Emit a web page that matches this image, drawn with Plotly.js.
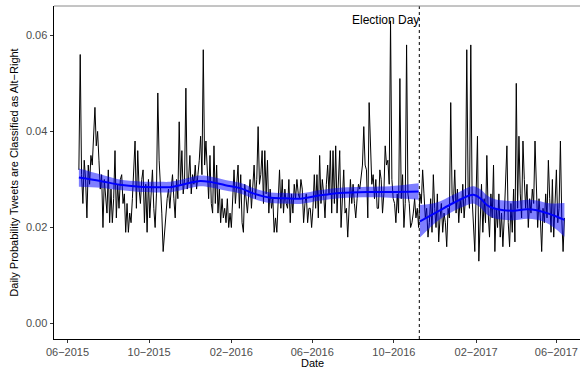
<!DOCTYPE html>
<html>
<head>
<meta charset="utf-8">
<script src="https://cdn.plot.ly/plotly-3.0.1.min.js"></script>
<style>html,body{margin:0;padding:0;background:#fff;}#chart{width:580px;height:370px;}</style>
</head>
<body>
<div id="chart"></div>
<script>
// Daily series sampled every 2 days, starting 2015-06-18
const seriesStart = '2015-06-18';
const seriesStepDays = 2;
const dailyProb = [
0.032,0.056,0.031,0.025,0.034,0.030,0.022,0.033,0.029,0.035,
0.033,0.041,0.045,0.037,0.040,0.034,0.028,0.031,0.020,0.030,
0.027,0.023,0.032,0.021,0.028,0.021,0.026,0.036,0.022,0.029,
0.024,0.030,0.031,0.025,0.027,0.019,0.025,0.019,0.023,0.021,
0.026,0.031,0.038,0.024,0.036,0.028,0.025,0.030,0.032,0.021,
0.029,0.019,0.030,0.022,0.028,0.032,0.024,0.020,0.027,0.048,
0.034,0.029,0.023,0.015,0.019,0.023,0.026,0.028,0.024,0.028,
0.031,0.026,0.022,0.030,0.026,0.042,0.029,0.036,0.027,0.030,
0.049,0.028,0.030,0.035,0.027,0.031,0.029,0.033,0.028,0.031,
0.034,0.039,0.031,0.057,0.033,0.038,0.031,0.026,0.035,0.025,
0.023,0.037,0.025,0.033,0.023,0.028,0.021,0.026,0.022,0.024,
0.021,0.026,0.020,0.023,0.020,0.027,0.032,0.025,0.030,0.033,
0.024,0.031,0.021,0.019,0.029,0.026,0.023,0.027,0.030,0.024,
0.028,0.033,0.026,0.030,0.041,0.029,0.031,0.036,0.025,0.036,
0.027,0.034,0.023,0.028,0.024,0.026,0.019,0.022,0.019,0.028,
0.032,0.024,0.030,0.023,0.028,0.025,0.024,0.030,0.021,0.027,
0.023,0.029,0.026,0.030,0.027,0.026,0.030,0.028,0.021,0.025,
0.027,0.021,0.024,0.024,0.020,0.024,0.031,0.024,0.031,0.022,
0.035,0.025,0.030,0.027,0.022,0.029,0.033,0.027,0.036,0.023,
0.036,0.025,0.037,0.023,0.030,0.036,0.020,0.027,0.032,0.023,
0.024,0.018,0.024,0.030,0.025,0.029,0.025,0.022,0.026,0.029,
0.028,0.031,0.033,0.041,0.033,0.032,0.022,0.046,0.036,0.029,
0.031,0.026,0.030,0.024,0.024,0.032,0.030,0.023,0.027,0.037,
0.033,0.034,0.029,0.063,0.030,0.026,0.025,0.021,0.027,0.023,
0.051,0.026,0.031,0.020,0.025,0.058,0.027,0.025,0.020,0.021,
0.023,0.026,0.022,0.024,0.020,0.027,0.025,0.032,0.027,0.022,
0.024,0.018,0.021,0.026,0.019,0.031,0.024,0.020,0.027,0.017,
0.022,0.025,0.019,0.023,0.021,0.016,0.024,0.022,0.046,0.027,
0.025,0.032,0.023,0.028,0.021,0.026,0.023,0.029,0.022,0.026,
0.057,0.028,0.024,0.058,0.026,0.020,0.015,0.027,0.039,0.013,
0.024,0.029,0.019,0.026,0.021,0.035,0.023,0.018,0.027,0.022,
0.033,0.015,0.024,0.020,0.027,0.018,0.023,0.016,0.022,0.029,
0.037,0.021,0.016,0.025,0.019,0.028,0.017,0.050,0.024,0.039,
0.027,0.022,0.038,0.030,0.024,0.029,0.020,0.026,0.023,0.028,
0.025,0.038,0.030,0.020,0.026,0.022,0.015,0.024,0.021,0.027,
0.022,0.034,0.026,0.019,0.030,0.018,0.025,0.032,0.021,0.024,
0.038,0.022,0.015,0.022
];

// Smoothed fit before Election Day
const fitBeforeDates = ['2015-06-18','2015-07-20','2015-08-18','2015-09-17','2015-10-17','2015-11-01','2015-11-16','2015-12-01','2015-12-16','2015-12-31','2016-01-23','2016-02-14','2016-03-07','2016-03-30','2016-04-21','2016-05-14','2016-06-13','2016-07-12','2016-08-26','2016-09-25','2016-11-07'];
const fitBefore     = [0.0304,0.0297,0.0289,0.0285,0.0284,0.0284,0.0288,0.0293,0.0297,0.0295,0.0288,0.0282,0.0270,0.0262,0.0261,0.0260,0.0267,0.0272,0.0274,0.0274,0.0275];
const fitBeforeHigh = [0.0323,0.0311,0.0300,0.0296,0.0295,0.0295,0.0299,0.0304,0.0308,0.0306,0.0299,0.0293,0.0281,0.0273,0.0272,0.0271,0.0278,0.0283,0.0285,0.0286,0.0292];
const fitBeforeLow  = [0.0285,0.0283,0.0278,0.0274,0.0273,0.0273,0.0277,0.0282,0.0286,0.0284,0.0277,0.0271,0.0259,0.0251,0.0250,0.0249,0.0256,0.0261,0.0263,0.0262,0.0258];

// Smoothed fit after Election Day
const fitAfterDates = ['2016-11-09','2016-12-04','2016-12-29','2017-01-23','2017-01-28','2017-02-07','2017-02-17','2017-02-27','2017-03-14','2017-03-29','2017-04-18','2017-05-03','2017-05-18','2017-06-01','2017-06-13'];
const fitAfter     = [0.0213,0.0232,0.0251,0.0267,0.0268,0.0261,0.0247,0.0240,0.0236,0.0235,0.0238,0.0236,0.0230,0.0223,0.0216];
const fitAfterHigh = [0.0247,0.0252,0.0268,0.0285,0.0286,0.0280,0.0267,0.0260,0.0256,0.0255,0.0258,0.0256,0.0251,0.0250,0.0251];
const fitAfterLow  = [0.0179,0.0212,0.0234,0.0249,0.0250,0.0242,0.0227,0.0220,0.0216,0.0215,0.0218,0.0216,0.0209,0.0196,0.0181];

const xTickDates  = ['2015-06-01','2015-10-01','2016-02-01','2016-06-01','2016-10-01','2017-02-01','2017-06-01'];
const xTickLabels = ['06\u22122015','10\u22122015','02\u22122016','06\u22122016','10\u22122016','02\u22122017','06\u22122017'];
const yTickVals   = [0, 0.02, 0.04, 0.06];
const yTickLabels = ['0.00','0.02','0.04','0.06'];

const electionDate = '2016-11-08';
const electionLabel = 'Election Day';
const xTitle = 'Date';
const yTitle = 'Daily Probability Tweets are Classified as Alt\u2212Right';

// build the daily dates
const t0 = Date.parse(seriesStart + 'T00:00:00Z');
const seriesDates = dailyProb.map((_, i) => new Date(t0 + i * seriesStepDays * 86400000).toISOString().slice(0, 10));

const band = 'rgba(0,0,255,0.5)';
const traces = [
  {x: seriesDates, y: dailyProb, type: 'scatter', mode: 'lines', line: {color: '#000000', width: 1}, hoverinfo: 'skip'},
  {x: fitBeforeDates, y: fitBeforeLow, type: 'scatter', mode: 'lines', line: {width: 0, shape: 'spline'}, hoverinfo: 'skip'},
  {x: fitBeforeDates, y: fitBeforeHigh, type: 'scatter', mode: 'lines', line: {width: 0, shape: 'spline'}, fill: 'tonexty', fillcolor: band, hoverinfo: 'skip'},
  {x: fitAfterDates, y: fitAfterLow, type: 'scatter', mode: 'lines', line: {width: 0, shape: 'spline'}, hoverinfo: 'skip'},
  {x: fitAfterDates, y: fitAfterHigh, type: 'scatter', mode: 'lines', line: {width: 0, shape: 'spline'}, fill: 'tonexty', fillcolor: band, hoverinfo: 'skip'},
  {x: fitBeforeDates, y: fitBefore, type: 'scatter', mode: 'lines', line: {color: '#0000FF', width: 2, shape: 'spline'}, hoverinfo: 'skip'},
  {x: fitAfterDates, y: fitAfter, type: 'scatter', mode: 'lines', line: {color: '#0000FF', width: 2, shape: 'spline'}, hoverinfo: 'skip'}
];

const layout = {
  width: 580, height: 370,
  margin: {l: 54, r: 0, t: 6, b: 31, pad: 0},
  paper_bgcolor: '#ffffff', plot_bgcolor: '#ffffff',
  showlegend: false,
  font: {family: 'Liberation Sans, Arial, sans-serif', size: 11, color: '#000000'},
  xaxis: {
    type: 'date', range: ['2015-05-11 19:00', '2017-07-06 07:00'],
    tickmode: 'array', tickvals: xTickDates, ticktext: xTickLabels,
    showgrid: false, zeroline: false, showline: true, linecolor: '#000000', linewidth: 1,
    ticks: 'outside', ticklen: 2.5, tickwidth: 1, tickcolor: '#333333',
    tickfont: {size: 11, color: '#4D4D4D'},
    automargin: false
  },
  yaxis: {
    range: [-0.0032, 0.0661],
    tickmode: 'array', tickvals: yTickVals, ticktext: yTickLabels,
    showgrid: false, zeroline: false, showline: true, linecolor: '#000000', linewidth: 1,
    ticks: 'outside', ticklen: 3.5, tickwidth: 1, tickcolor: '#333333',
    tickfont: {size: 11, color: '#4D4D4D'},
    title: {text: yTitle, font: {size: 11, color: '#000000'}, standoff: 5},
    automargin: false
  },
  shapes: [
    {type: 'line', xref: 'x', yref: 'paper', x0: electionDate, x1: electionDate, y0: 0, y1: 1,
     line: {color: '#000000', width: 1, dash: '3px,3px'}, layer: 'above'},
    {type: 'line', xref: 'paper', yref: 'paper', x0: 0, x1: 1, y0: 1, y1: 1,
     line: {color: '#8a8a8a', width: 1}, layer: 'above'}
  ],
  annotations: [
    {x: '2016-09-18', y: 0.0632, xref: 'x', yref: 'y', text: electionLabel, showarrow: false,
     xanchor: 'center', yanchor: 'middle', font: {size: 12, color: '#000000'}},
    {x: '2016-06-01', y: -0.0932, xref: 'x', yref: 'paper', text: xTitle, showarrow: false,
     xanchor: 'center', yanchor: 'bottom', borderpad: 0, font: {size: 11, color: '#000000'}}
  ]
};

Plotly.newPlot('chart', traces, layout, {staticPlot: true, displayModeBar: false});
</script>
</body>
</html>
